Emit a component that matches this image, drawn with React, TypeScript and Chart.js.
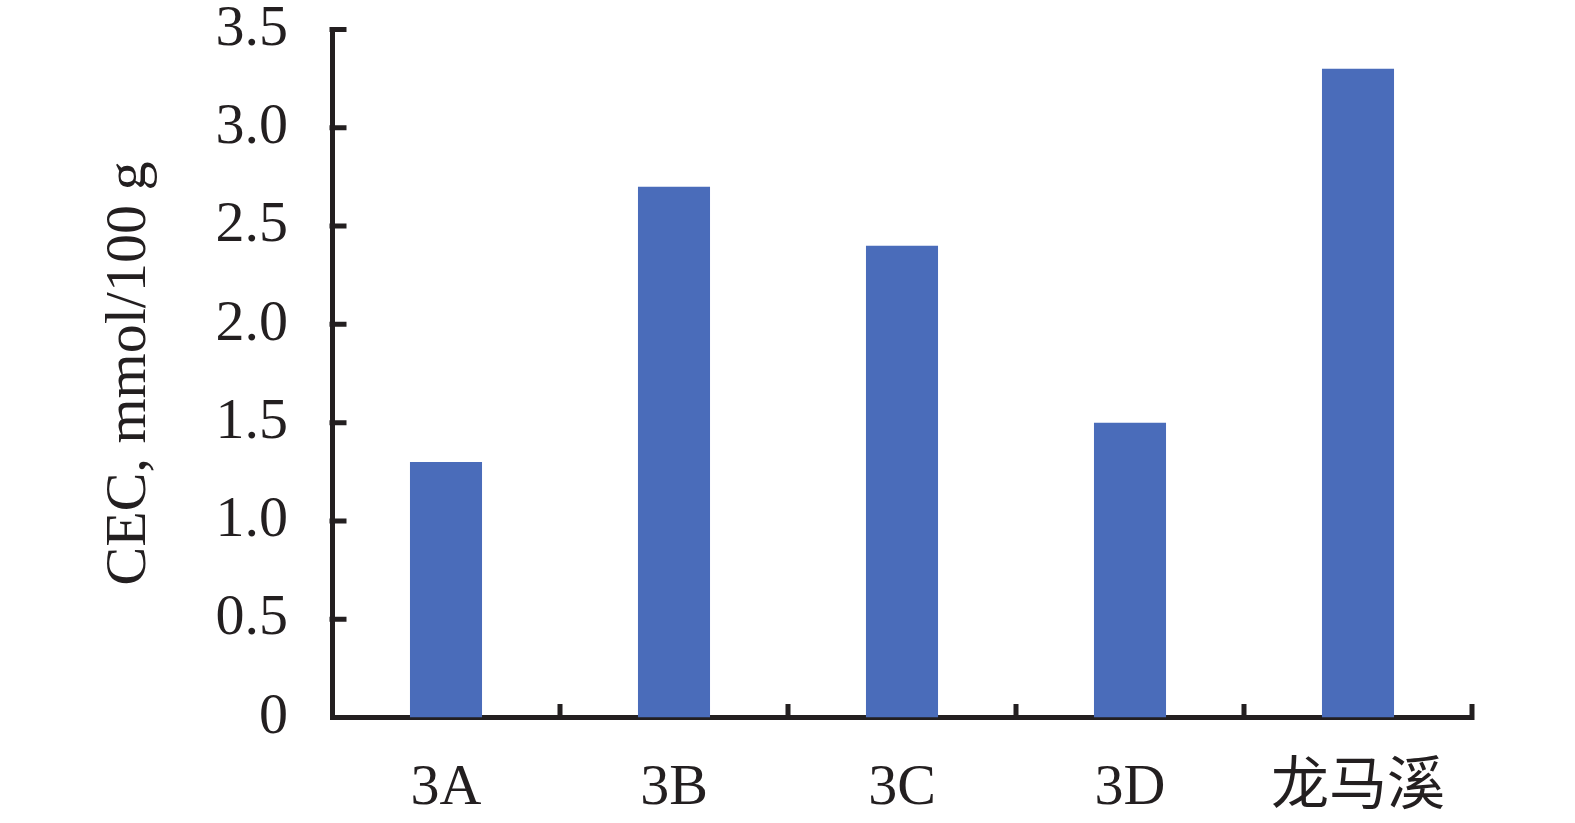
import React, { useEffect, useRef } from "react";
import { Chart, registerables } from "chart.js";

Chart.register(...registerables);

const categories = ["3A", "3B", "3C", "3D", "龙马溪"];
const cecValues = [1.3, 2.7, 2.4, 1.5, 3.3];
const yTickValues = [0.5, 1.0, 1.5, 2.0, 2.5, 3.0, 3.5];
const yTitle = "CEC, mmol/100 g";

const AXIS_COLOR = "#231f20";
const FONT = "'Liberation Serif', 'Times New Roman', 'Noto Sans CJK SC', serif";

const innerTicks = {
  id: "innerTicks",
  afterDraw(chart: any) {
    const { ctx, chartArea, scales } = chart;
    const x = scales.x;
    const y = scales.y;
    ctx.save();
    ctx.strokeStyle = AXIS_COLOR;
    ctx.lineWidth = 5;
    ctx.lineCap = "square";
    ctx.beginPath();
    yTickValues.forEach((v) => {
      const py = y.getPixelForValue(v);
      ctx.moveTo(chartArea.left, py);
      ctx.lineTo(chartArea.left + 12, py);
    });
    categories.forEach((_c, i) => {
      const px = x.getPixelForValue(i + 0.5);
      ctx.moveTo(px, chartArea.bottom);
      ctx.lineTo(px, chartArea.bottom - 11);
    });
    ctx.stroke();
    ctx.restore();
  },
};

export default function App() {
  const ref = useRef<HTMLCanvasElement | null>(null);
  useEffect(() => {
    if (!ref.current) return;
    const chart = new Chart(ref.current, {
      type: "bar",
      data: {
        labels: categories,
        datasets: [
          {
            data: cecValues,
            backgroundColor: "#4a6cba",
            borderWidth: 0,
            categoryPercentage: 1,
            barPercentage: 0.316,
          },
        ],
      },
      options: {
        animation: false,
        responsive: false,
        maintainAspectRatio: false,
        layout: { padding: { top: 29.5, right: 103, bottom: 0, left: 0 } },
        plugins: { legend: { display: false }, tooltip: { enabled: false } },
        scales: {
          x: {
            offset: true,
            grid: { display: false, drawTicks: false },
            border: { display: true, color: AXIS_COLOR, width: 5 },
            ticks: {
              color: AXIS_COLOR,
              font: { family: FONT, size: 58 },
              padding: 36,
              maxRotation: 0,
            },
            afterFit(scale: any) {
              scale.height = 105.5;
              scale.paddingLeft = 0;
              scale.paddingRight = 0;
            },
          },
          y: {
            min: 0,
            max: 3.5,
            grid: { display: false, drawTicks: false },
            border: { display: true, color: AXIS_COLOR, width: 5 },
            ticks: {
              stepSize: 0.5,
              color: AXIS_COLOR,
              font: { family: FONT, size: 58 },
              padding: 44,
              callback: (v: any) => (Number(v) === 0 ? "0" : Number(v).toFixed(1)),
            },
            title: {
              display: true,
              text: yTitle,
              color: AXIS_COLOR,
              font: { family: FONT, size: 58, weight: "normal" },
              padding: { top: 95, bottom: 0 },
            },
            afterFit(scale: any) {
              scale.width = 332;
              scale.paddingTop = 0;
              scale.paddingBottom = 0;
            },
          },
        },
      },
      plugins: [innerTicks],
    });
    return () => chart.destroy();
  }, []);
  return (
    <div style={{ position: "fixed", left: 0, top: 0, width: 1575, height: 823, background: "#fff" }}>
      <canvas ref={ref} width={1575} height={823} style={{ display: "block" }} />
    </div>
  );
}
